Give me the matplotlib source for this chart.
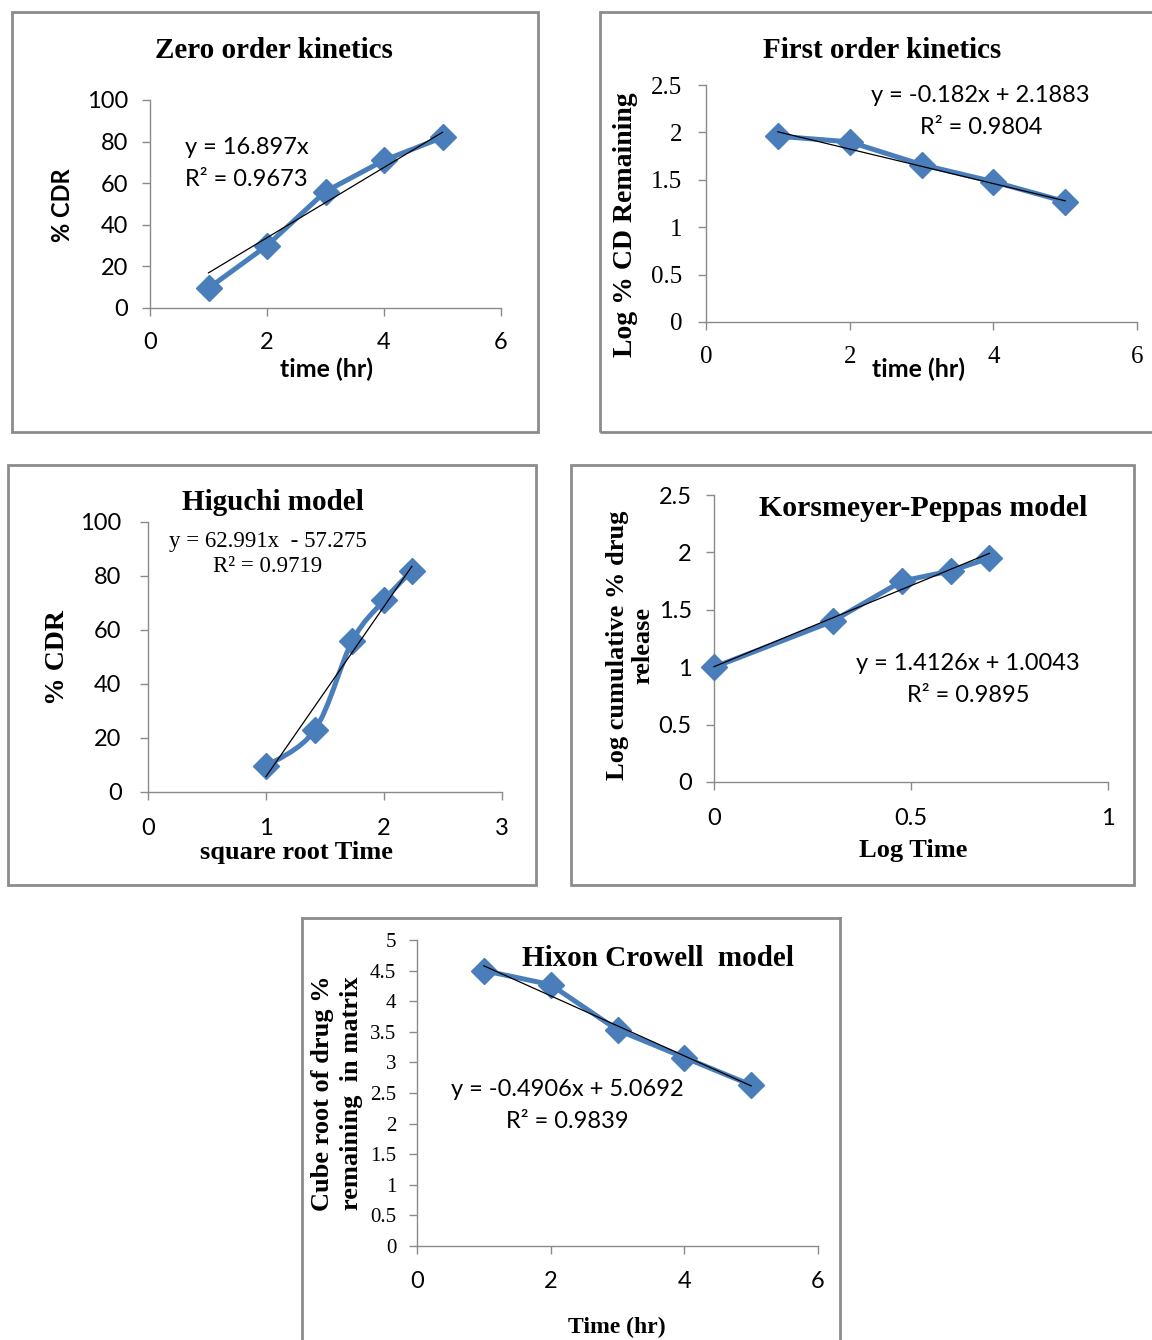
import numpy as np
import matplotlib
matplotlib.use("Agg")
import matplotlib.pyplot as plt
from matplotlib.path import Path
from matplotlib.patches import PathPatch, Rectangle
from matplotlib.lines import Line2D

# ---------------- data ----------------
time_hr = [1, 2, 3, 4, 5]
zero_cdr = [9.5, 30, 56, 71, 82]
zero_eq = "y = 16.897x"
zero_r2 = "R² = 0.9673"
zero_slope = 16.897

first_log_rem = [1.96, 1.90, 1.66, 1.48, 1.27]
first_eq = "y = -0.182x + 2.1883"
first_r2 = "R² = 0.9804"
first_coef = (-0.182, 2.1883)

higuchi_x = [1.0, 1.414, 1.732, 2.0, 2.236]
higuchi_cdr = [9.5, 23, 56, 71, 82]
higuchi_eq = "y = 62.991x  - 57.275"
higuchi_r2 = "R² = 0.9719"
higuchi_coef = (62.991, -57.275)

kp_logt = [0.0, 0.301, 0.477, 0.602, 0.699]
kp_logrel = [1.0, 1.40, 1.75, 1.84, 1.95]
kp_eq = "y = 1.4126x + 1.0043"
kp_r2 = "R² = 0.9895"
kp_coef = (1.4126, 1.0043)

hix_cube = [4.5, 4.27, 3.53, 3.08, 2.63]
hix_eq = "y = -0.4906x + 5.0692"
hix_r2 = "R² = 0.9839"
hix_coef = (-0.4906, 5.0692)

# ---------------- style ----------------
W, H = 1152, 1340
SANS = ["Lato", "DejaVu Sans"]
SERIF = ["Liberation Serif", "DejaVu Serif"]
BLUE = "#4A7EBB"
GRAY = "#8a8a8a"
BORDER = "#8c8c8c"

fig = plt.figure(figsize=(W / 100, H / 100), dpi=100)
fig.patch.set_facecolor("white")


def fx(x):
    return x / W


def fy(y):
    return 1 - y / H


def add_ax(x0, y0, x1, y1):
    ax = fig.add_axes([fx(x0), fy(y1), (x1 - x0) / W, (y1 - y0) / H])
    ax.set_facecolor("none")
    for s in ("top", "right"):
        ax.spines[s].set_visible(False)
    for s in ("left", "bottom"):
        ax.spines[s].set_color(GRAY)
        ax.spines[s].set_linewidth(1.0)
    ax.tick_params(direction="out", length=6, width=1.0, color=GRAY)
    return ax


def ftext(x, y, s, size, family, bold=False, ha="center", va="center", rot=0, ls=1.2):
    fig.text(fx(x), fy(y), s, fontsize=size, family=family,
             fontweight="bold" if bold else "normal", ha=ha, va=va,
             rotation=rot, linespacing=ls, color="black")


def border(x0, y0, x1, y1):
    fig.patches.append(Rectangle((fx(x0), fy(y1)), (x1 - x0) / W, (y1 - y0) / H,
                                 transform=fig.transFigure, fill=False,
                                 edgecolor=BORDER, linewidth=2.0))


def set_tick_fonts(ax, xfam, yfam, xsize, ysize):
    for lab in ax.get_xticklabels():
        lab.set_family(xfam)
        lab.set_fontsize(xsize)
    for lab in ax.get_yticklabels():
        lab.set_family(yfam)
        lab.set_fontsize(ysize)


LW = 3.6
MS = 13


def series(ax, x, y, smooth=False):
    if smooth:
        # Bezier smoothing (Excel-style smoothed line) through the data points
        x = np.asarray(x, float)
        y = np.asarray(y, float)
        verts = [(x[0], y[0])]
        codes = [Path.MOVETO]
        n = len(x)
        for i in range(n - 1):
            p0 = np.array([x[max(i - 1, 0)], y[max(i - 1, 0)]])
            p1 = np.array([x[i], y[i]])
            p2 = np.array([x[i + 1], y[i + 1]])
            p3 = np.array([x[min(i + 2, n - 1)], y[min(i + 2, n - 1)]])
            c1 = p1 + (p2 - p0) / 6.0
            c2 = p2 - (p3 - p1) / 6.0
            verts += [tuple(c1), tuple(c2), tuple(p2)]
            codes += [Path.CURVE4] * 3
        ax.add_patch(PathPatch(Path(verts, codes), fill=False, edgecolor=BLUE,
                               lw=LW, capstyle="round", joinstyle="round",
                               clip_on=False, zorder=3))
        ax.plot(x, y, ls="none", marker="D", ms=MS, color=BLUE, clip_on=False, zorder=4)
    else:
        ax.plot(x, y, color=BLUE, lw=LW, marker="D", ms=MS, clip_on=False,
                solid_joinstyle="round", zorder=3)


def trend(ax, x0, x1, m, b):
    xs = np.array([x0, x1])
    ax.plot(xs, m * xs + b, color="black", lw=0.9, zorder=5, clip_on=False)


# ================= Panel 1: Zero order =================
border(12, 12, 538, 432)
ax1 = add_ax(150, 100, 501, 308)
series(ax1, time_hr, zero_cdr)
trend(ax1, time_hr[0], time_hr[-1], zero_slope, 0.0)
ax1.set_xlim(0, 6)
ax1.set_ylim(0, 100)
ax1.set_xticks([0, 2, 4, 6])
ax1.set_yticks(range(0, 101, 20))
ax1.tick_params(axis="x", pad=11)
ax1.tick_params(axis="y", pad=10)
set_tick_fonts(ax1, SANS, SANS, 17, 17)
ftext(274, 51, "Zero order kinetics", 21, SERIF, bold=True)
ftext(185, 147, zero_eq, 17, SANS, ha="left")
ftext(185, 180, zero_r2, 17, SANS, ha="left")
ftext(62, 205, "% CDR", 17, SANS, bold=True, rot=90)
ftext(327, 369, "time (hr)", 18, SANS, bold=True)

# ================= Panel 2: First order =================
border(600, 12, 1160, 432)
ax2 = add_ax(706, 85, 1137, 322)
series(ax2, time_hr, first_log_rem)
trend(ax2, time_hr[0], time_hr[-1], *first_coef)
ax2.set_xlim(0, 6)
ax2.set_ylim(0, 2.5)
ax2.set_xticks([0, 2, 4, 6])
ax2.set_yticks([0, 0.5, 1, 1.5, 2, 2.5])
ax2.set_yticklabels(["0", "0.5", "1", "1.5", "2", "2.5"])
ax2.tick_params(axis="x", pad=11)
ax2.tick_params(axis="y", pad=11)
set_tick_fonts(ax2, SERIF, SERIF, 18, 18)
ftext(882, 51, "First order kinetics", 21, SERIF, bold=True)
ftext(980, 96, first_eq, 17, SANS)
ftext(981, 128, first_r2, 17, SANS)
ftext(626, 225, "Log % CD Remaining", 20, SERIF, bold=True, rot=90)
ftext(919, 369, "time (hr)", 18, SANS, bold=True)

# ================= Panel 3: Higuchi =================
border(8, 465, 536, 885)
ax3 = add_ax(148, 522, 502, 792)
series(ax3, higuchi_x, higuchi_cdr, smooth=True)
trend(ax3, higuchi_x[0], higuchi_x[-1], *higuchi_coef)
ax3.set_xlim(0, 3)
ax3.set_ylim(0, 100)
ax3.set_xticks([0, 1, 2, 3])
ax3.set_yticks(range(0, 101, 20))
ax3.tick_params(axis="x", pad=13)
ax3.tick_params(axis="y", pad=13)
set_tick_fonts(ax3, SANS, SANS, 17, 17)
ftext(273, 503, "Higuchi model", 21, SERIF, bold=True)
ftext(268, 541, higuchi_eq, 16.5, SERIF)
ftext(268, 567, higuchi_r2, 16.5, SERIF)
ftext(58, 658, "% CDR", 20, SERIF, bold=True, rot=90)
ftext(296, 852, "square root Time", 19, SERIF, bold=True)

# ================= Panel 4: Korsmeyer-Peppas =================
border(571, 465, 1134, 885)
ax4 = add_ax(714, 495, 1108, 782)
series(ax4, kp_logt, kp_logrel)
trend(ax4, kp_logt[0], kp_logt[-1], *kp_coef)
ax4.set_xlim(0, 1)
ax4.set_ylim(0, 2.5)
ax4.set_xticks([0, 0.5, 1])
ax4.set_xticklabels(["0", "0.5", "1"])
ax4.set_yticks([0, 0.5, 1, 1.5, 2, 2.5])
ax4.set_yticklabels(["0", "0.5", "1", "1.5", "2", "2.5"])
ax4.tick_params(axis="x", pad=13)
ax4.tick_params(axis="y", pad=10)
set_tick_fonts(ax4, SANS, SANS, 17, 17)
ftext(923, 509, "Korsmeyer-Peppas model", 21.5, SERIF, bold=True)
ftext(968, 664, kp_eq, 17, SANS)
ftext(968, 696, kp_r2, 17, SANS)
ftext(630, 645, "Log cumulative % drug\nrelease", 19, SERIF, bold=True, rot=90, ls=1.15)
ftext(913, 851, "Log Time", 19, SERIF, bold=True)

# ================= Panel 5: Hixon Crowell =================
for (xa, ya, xb, yb) in [(302, 918, 302, 1345), (302, 918, 840, 918), (840, 918, 840, 1345)]:
    fig.lines.append(Line2D([fx(xa), fx(xb)], [fy(ya), fy(yb)], transform=fig.transFigure,
                            color=BORDER, lw=2.0))
ax5 = add_ax(417, 940, 818, 1246)
series(ax5, time_hr, hix_cube)
trend(ax5, time_hr[0], time_hr[-1], *hix_coef)
ax5.set_xlim(0, 6)
ax5.set_ylim(0, 5)
ax5.set_xticks([0, 2, 4, 6])
ax5.set_yticks(np.arange(0, 5.01, 0.5))
ax5.set_yticklabels(["0", "0.5", "1", "1.5", "2", "2.5", "3", "3.5", "4", "4.5", "5"])
ax5.tick_params(axis="x", pad=12)
ax5.tick_params(axis="y", pad=9)
set_tick_fonts(ax5, SANS, SERIF, 17, 15)
ftext(658, 959, "Hixon Crowell  model", 21, SERIF, bold=True)
ftext(567, 1090, hix_eq, 17, SANS)
ftext(567, 1121, hix_r2, 17, SANS)
ftext(337, 1093, "Cube root of drug %\nremaining  in matrix", 19, SERIF, bold=True, rot=90, ls=1.3)
ftext(617, 1327, "Time (hr)", 17, SERIF, bold=True)

fig.savefig("out.png", dpi=100, facecolor="white")
